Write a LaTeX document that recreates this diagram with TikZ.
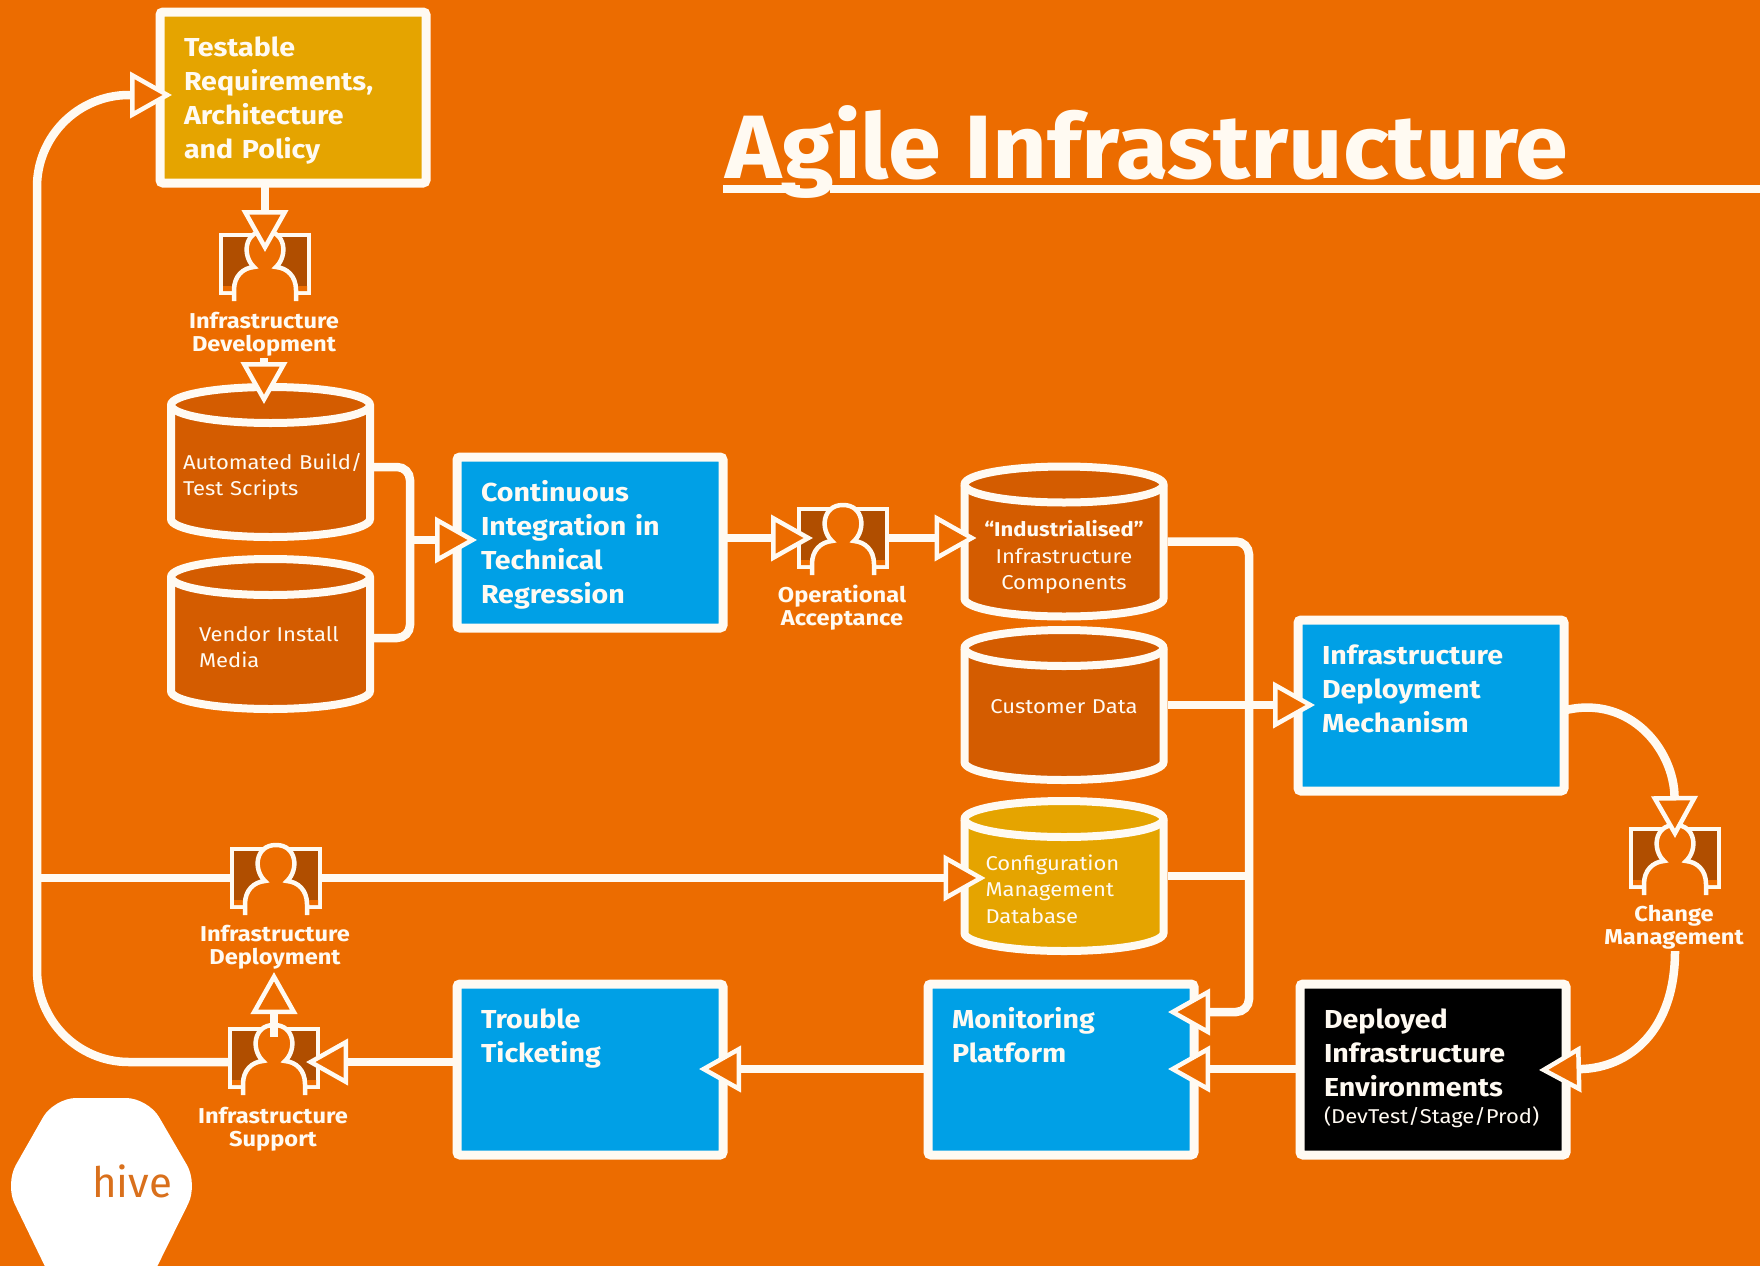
\documentclass[tikz,border=0pt]{standalone}
\usepackage{fontspec}
\usetikzlibrary{arrows.meta,calc}
\setmainfont{Fira Sans}[FakeStretch=1.1]
\newfontfamily\titlef[FakeStretch=1.06]{Fira Sans}
\newfontfamily\hivef{Fira Sans}
\definecolor{bgor}{HTML}{EC6C00}
\definecolor{drumor}{HTML}{D45C00}
\definecolor{panel}{HTML}{B04E00}
\definecolor{gold}{HTML}{E5A400}
\definecolor{skyb}{HTML}{00A0E6}
\definecolor{ink}{HTML}{FFFAF2}
\definecolor{hivetxt}{HTML}{D9701C}
\tikzset{
  x=1pt,y=-1pt,
  wire/.style={draw=ink,line width=8.5pt},
  tip/.style={-{Triangle[length=42pt,width=46pt,line width=4.5pt,fill=bgor,color=ink]}},
  flow/.style={wire,tip},
  procbox/.style={draw=ink,fill=#1,line width=9pt,rounded corners=3pt,anchor=north west,
    inner xsep=24pt,inner ysep=0pt,outer sep=0pt,text width=218pt,align=left,text=ink,
    text height=44pt,text depth=127pt,font=\bfseries\fontsize{26}{34}\selectfont},
  roletext/.style={text=ink,align=center,inner sep=0pt,outer sep=2pt,
    font=\bfseries\fontsize{21.5}{23}\selectfont},
  person/.pic={
    \fill[panel,draw=ink,line width=4.5pt] (-44,-29) rectangle (44,29);
    \fill[bgor] (-42,22) rectangle (-30,27) (30,22) rectangle (42,27);
    \path[fill=bgor,draw=ink,line width=4.5pt]
      (-31,37) -- (-31,26) .. controls (-31,12) and (-22,4) .. (-11,3)
      .. controls (-23,-8) and (-21,-33) .. (0,-33)
      .. controls (21,-33) and (23,-8) .. (11,3)
      .. controls (22,4) and (31,12) .. (31,26) -- (31,37);
    \node[inner sep=0pt,outer sep=0pt,minimum width=92pt,minimum height=62pt] (-box) at (0,0) {};
  },
}
\newcommand{\drum}[8]{%
  % name, cx, cy, fill, inset, first baseline, align, text
  \path[fill=#4,draw=ink,line width=8pt]
    (#2-99.5,#3-57) -- (#2-99.5,#3+57) arc[start angle=180,end angle=360,x radius=99.5pt,y radius=18pt]
    -- (#2+99.5,#3-57) arc[start angle=0,end angle=180,x radius=99.5pt,y radius=18pt] -- cycle;
  \draw[ink,line width=8pt] (#2-99.5,#3-57) arc[start angle=180,end angle=360,x radius=99.5pt,y radius=18pt];
  \node[anchor=north west,inner xsep=#5pt,inner ysep=0pt,outer sep=0pt,text=ink,
    text width={207pt-2*#5pt},align=#7,text height=#6pt,text depth={158pt-#6pt},
    font=\fontsize{20}{26.5}\selectfont] (#1) at (#2-103.5,#3-79) {#8};
}
\begin{document}
\begin{tikzpicture}
\useasboundingbox (0,0) rectangle (1760,1266);
\fill[bgor] (0,0) rectangle (1760,1266);

% hive logo
\path[fill=white,rounded corners=22pt] (5,1184) -- (54,1098) -- (148,1098) -- (198,1184) -- (148,1285) -- (54,1285) -- cycle;
\node[text=hivetxt,inner sep=0pt,anchor=base west,font=\hivef\fontsize{42}{42}\selectfont] (hive) at (92,1197) {hive};

% title
\node[text=ink,inner sep=0pt,anchor=base west,font=\titlef\bfseries\fontsize{90}{94}\selectfont] (title) at (725,178) {Agile Infrastructure};
\coordinate (rulea) at (723,189);
\coordinate (ruleb) at (800,189);
\coordinate (rulec) at (830,189);
\coordinate (ruled) at (1760,189);
\draw[ink,line width=8pt] (rulea) -- (ruleb);
\draw[ink,line width=8pt] (rulec) -- (ruled);

% process boxes
\node[procbox=gold] (reqs) at (160,12) {Testable\\Requirements,\\Architecture\\and Policy};
\node[procbox=skyb] (ci) at (457,457) {Continuous\\Integration in\\Technical\\Regression};
\node[procbox=skyb] (mech) at (1298,620) {Infrastructure\\Deployment\\Mechanism};
\node[procbox=skyb] (trouble) at (457,984) {Trouble\\Ticketing};
\node[procbox=skyb] (monitor) at (928,984) {Monitoring\\Platform};
\node[procbox=black] (deployed) at (1300,984) {Deployed\\Infrastructure\\Environments\\[-7pt]{\mdseries\fontsize{20}{24}\selectfont (DevTest/Stage/Prod)}};

% data stores
\drum{auto}{270.5}{462}{drumor}{16}{86}{left}{\mbox{Automated Build/}\\Test Scripts}
\drum{vendor}{270.5}{634}{drumor}{32}{86}{left}{Vendor Install\\Media}
\drum{indust}{1064}{541.5}{drumor}{10}{74}{center}{\textbf{“Industrialised”}\\Infrastructure\\Components}
\drum{custdata}{1064}{705}{drumor}{10}{87}{center}{Customer Data}
\drum{config}{1064}{876}{gold}{25}{73}{left}{Configuration\\Management\\Database}

% role icons and labels
\pic (dev) at (265,264) {person};
\pic (oper) at (843,538) {person};
\pic (rollout) at (276,878) {person};
\pic (support) at (274,1058) {person};
\pic (change) at (1675,858) {person};
\node[roletext] (devl) at (264,334) {Infrastructure\\Development};
\node[roletext] (operl) at (842,608) {Operational\\Acceptance};
\node[roletext] (rolloutl) at (275,947) {Infrastructure\\Deployment};
\node[roletext] (supportl) at (273,1129) {Infrastructure\\Support};
\node[roletext] (changel) at (1674,927) {Change\\Management};

% connectors
\coordinate (brk) at (410,540);
\coordinate (loopc) at (37,878);
\coordinate (looptop) at (37,95);
\coordinate (tvert) at (1249,1012);
\coordinate (ylow) at (0,1069);
\coordinate (ychg) at (0,1070);
\draw[flow] (reqs.south -| dev-box.center) -- ([yshift=-19pt]dev-box.north);
\draw[flow] (devl.south) -- ([yshift=-21pt]auto.north -| devl.south);
\draw[wire,rounded corners=13pt] ([yshift=-5pt]auto.east) -| (brk) |- ([yshift=-4pt]vendor.east);
\draw[flow] (brk) -- ([xshift=20pt]brk -| ci.west);
\draw[flow] (ci.east |- oper-box.west) -- ([xshift=16pt]oper-box.west);
\draw[flow] (oper-box.east) -- ([xshift=16pt]oper-box.east -| indust.west);
\draw[wire,tip,rounded corners=13pt] (indust.east) -| (tvert) -- ([xshift=-26pt]monitor.east |- tvert);
\draw[wire] (config.east) -- (config.east -| tvert);
\draw[flow] (custdata.east) -- ([xshift=17pt]custdata.east -| mech.west);
\draw[wire,tip] ([yshift=-5pt]mech.east) .. controls (1630,694) and (1674,750) .. ([yshift=-11pt]change-box.north);
\draw[wire,tip] (changel.south -| change-box.south) .. controls (1675,1030) and (1630,1068) .. ([xshift=-27pt]deployed.east |- ychg);
\draw[flow] (deployed.west |- ylow) -- ([xshift=-26pt]monitor.east |- ylow);
\draw[flow] (monitor.west |- ylow) -- ([xshift=-24pt]trouble.east |- ylow);
\draw[flow] ([yshift=-4pt]trouble.west |- support-box.center) -- ([xshift=-14pt,yshift=-4pt]support-box.east);
\draw[wire,tip] ([yshift=-10pt]support-box.north) -- ([yshift=-1pt]rolloutl.south -| support-box.north);
\draw[wire,tip,rounded corners=92pt] ([yshift=-4pt]support-box.west) -| (looptop) -- ([xshift=12pt]reqs.west |- looptop);
\draw[wire] (loopc) -- (rollout-box.west);
\draw[flow] (rollout-box.east) -- ([xshift=25pt]rollout-box.east -| config.west);
\end{tikzpicture}
\end{document}
